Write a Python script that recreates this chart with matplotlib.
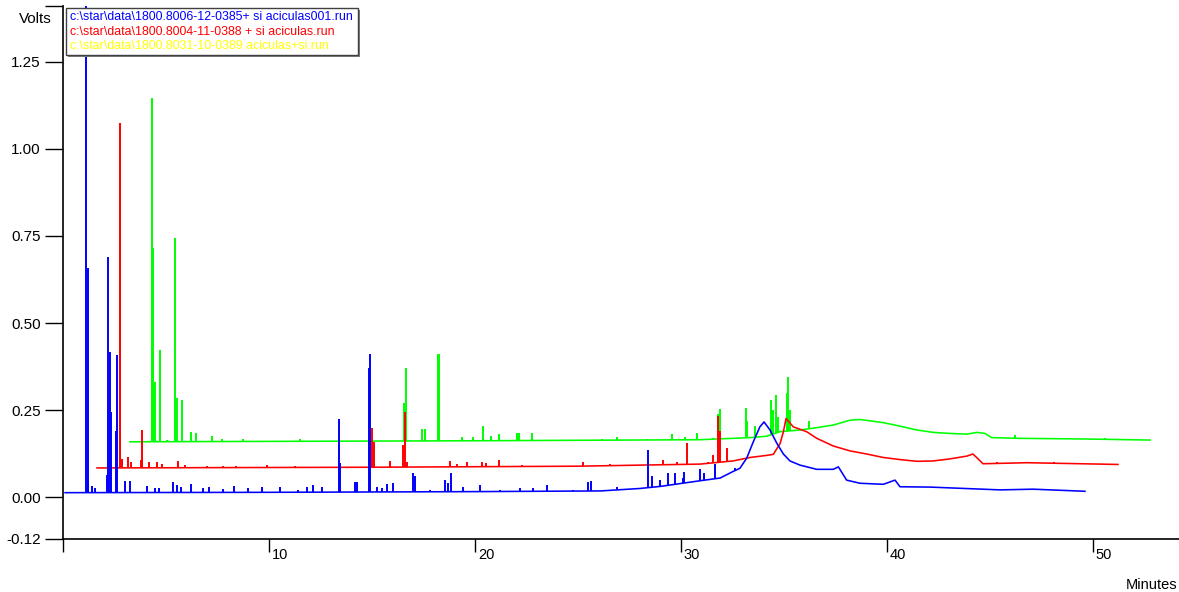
import numpy as np
import matplotlib.pyplot as plt
from matplotlib.patches import Rectangle

# ---- data (minutes, volts) ----
# blue: 1800.8006-12-0385+ si aciculas001
blue_base_t = [0.1, 10, 20, 26.1, 28.0, 29.0, 30.9, 31.9, 32.5, 32.86, 33.19, 33.51, 33.83, 34.03,
               34.32, 34.65, 34.97, 35.29, 35.78, 36.59, 37.39, 37.64, 38.04, 38.69, 39.82, 40.39,
               40.63, 42.09, 45.49, 47.09, 49.61]
blue_base_v = [0.013, 0.014, 0.016, 0.018, 0.025, 0.031, 0.047, 0.055, 0.073, 0.083, 0.112, 0.159,
               0.202, 0.216, 0.193, 0.155, 0.124, 0.104, 0.092, 0.080, 0.080, 0.087, 0.049, 0.040,
               0.037, 0.049, 0.030, 0.029, 0.021, 0.023, 0.017]
blue_peak_t = [1.12, 1.20, 1.23, 1.39, 1.55, 2.12, 2.18, 2.28, 2.33, 2.57, 2.62, 3.01, 3.25, 4.06,
               4.47, 4.66, 5.35, 5.52, 5.71, 6.21, 6.8, 7.09, 7.75, 8.3, 8.97, 9.66, 10.53, 11.41,
               11.83, 12.14, 12.56, 13.4, 13.45, 14.17, 14.26, 14.87, 14.92, 15.26, 15.47, 15.74,
               16.0, 17.0, 17.09, 17.82, 18.54, 18.7, 18.82, 19.4, 20.24, 21.2, 22.18, 22.82,
               23.48, 24.76, 25.5, 25.62, 26.88, 28.41, 28.58, 28.98, 29.38, 29.71, 30.08, 30.15,
               30.92, 31.12, 31.65, 32.62]
blue_peak_v = [1.45, 0.658, 0.044, 0.031, 0.027, 0.063, 0.69, 0.417, 0.245, 0.19, 0.408, 0.046,
               0.047, 0.031, 0.025, 0.027, 0.043, 0.035, 0.03, 0.039, 0.025, 0.03, 0.024, 0.031,
               0.025, 0.028, 0.03, 0.022, 0.03, 0.034, 0.03, 0.224, 0.098, 0.043, 0.045, 0.37,
               0.41, 0.03, 0.027, 0.037, 0.042, 0.07, 0.06, 0.02, 0.049, 0.04, 0.07, 0.03, 0.036,
               0.02, 0.025, 0.025, 0.034, 0.02, 0.044, 0.047, 0.03, 0.135, 0.06, 0.05, 0.07, 0.07,
               0.055, 0.072, 0.08, 0.07, 0.095, 0.085]

# red: 1800.8004-11-0388 + si aciculas
red_base_t = [1.65, 15, 25, 30.92, 32.52, 33.35, 34.16, 34.48, 34.81, 34.97, 35.1, 35.45, 36.1,
              36.59, 37.39, 38.2, 39.01, 39.82, 40.63, 41.46, 42.23, 43.06, 43.88, 44.17, 44.42,
              44.66, 46.8, 51.21]
red_base_v = [0.084, 0.086, 0.089, 0.095, 0.104, 0.114, 0.120, 0.123, 0.154, 0.188, 0.226, 0.202,
              0.188, 0.169, 0.147, 0.133, 0.124, 0.114, 0.108, 0.103, 0.104, 0.110, 0.118, 0.124,
              0.110, 0.096, 0.099, 0.094]
red_peak_t = [2.75, 2.85, 3.14, 3.3, 3.77, 3.82, 4.17, 4.56, 4.79, 5.6, 5.92, 6.98, 7.77, 8.4, 9.9,
              11.26, 14.99, 15.1, 15.87, 16.52, 16.59, 16.68, 18.79, 19.14, 19.6, 20.33, 20.53,
              21.18, 22.27, 25.24, 26.55, 29.13, 29.79, 30.28, 31.31, 31.55, 31.8, 31.89, 32.23,
              45.32, 48.13, 48.97, 49.38]
red_peak_v = [1.074, 0.11, 0.115, 0.1, 0.108, 0.193, 0.1, 0.1, 0.095, 0.103, 0.093, 0.09, 0.09,
              0.09, 0.092, 0.09, 0.198, 0.158, 0.103, 0.149, 0.245, 0.1, 0.103, 0.095, 0.1, 0.1,
              0.098, 0.106, 0.092, 0.1, 0.095, 0.106, 0.1, 0.155, 0.1, 0.12, 0.233, 0.19, 0.14,
              0.1, 0.1, 0.098, 0.098]

# green trace (legend text is yellow): 1800.8031-10-0389 aciculas+si
green_base_t = [3.25, 20, 30.9, 33.35, 34.16, 34.8, 35.78, 36.41, 37.39, 38.2, 38.69, 39.82, 40.63,
                41.44, 42.25, 43.06, 43.87, 44.36, 44.76, 45.08, 46.37, 49.69, 50.73, 52.77]
green_base_v = [0.159, 0.162, 0.165, 0.171, 0.175, 0.188, 0.193, 0.198, 0.207, 0.221, 0.223, 0.214,
                0.204, 0.193, 0.186, 0.183, 0.181, 0.186, 0.183, 0.171, 0.169, 0.167, 0.166, 0.164]
green_peak_t = [4.33, 4.37, 4.45, 4.71, 5.03, 5.44, 5.52, 5.78, 6.2, 6.46, 7.22, 7.72, 8.74, 11.5,
                16.55, 16.67, 17.45, 17.55, 18.19, 18.25, 19.35, 19.92, 20.37, 20.76, 21.18, 22.02,
                22.14, 22.75, 26.15, 26.88, 28.33, 29.55, 30.19, 30.76, 31.55, 31.8, 31.89, 33.16,
                33.22, 33.59, 34.35, 34.47, 34.61, 34.72, 35.16, 35.21, 35.29, 36.21, 46.21, 50.58]
green_peak_v = [1.147, 0.715, 0.33, 0.422, 0.165, 0.743, 0.284, 0.28, 0.186, 0.183, 0.176, 0.168,
                0.167, 0.166, 0.27, 0.37, 0.195, 0.195, 0.41, 0.41, 0.172, 0.172, 0.205, 0.176,
                0.18, 0.183, 0.183, 0.183, 0.168, 0.172, 0.168, 0.18, 0.172, 0.183, 0.17, 0.24,
                0.253, 0.257, 0.22, 0.204, 0.279, 0.25, 0.293, 0.23, 0.3, 0.345, 0.25, 0.22,
                0.178, 0.171]

legend_labels = [r'c:\star\data\1800.8006-12-0385+ si aciculas001.run',
                 r'c:\star\data\1800.8004-11-0388 + si aciculas.run',
                 r'c:\star\data\1800.8031-10-0389 aciculas+si.run']

y_ticks = [-0.12, 0.0, 0.25, 0.5, 0.75, 1.0, 1.25, 1.41]
y_ticklabels = ['-0.12', '0.00', '0.25', '0.50', '0.75', '1.00', '1.25', '']
x_ticks = [0, 10, 20, 30, 40, 50]
x_ticklabels = ['', '10', '20', '30', '40', '50']

W, H = 1179, 592
plt.rcParams['font.family'] = ['Liberation Sans', 'DejaVu Sans']

fig = plt.figure(figsize=(W / 100, H / 100), dpi=100)
ax = fig.add_axes([63 / W, 1 - 539 / H, (W - 63) / W, (539 - 6) / H])

traces = [
    (green_base_t, green_base_v, green_peak_t, green_peak_v, '#00ff00'),
    (red_base_t, red_base_v, red_peak_t, red_peak_v, '#ff0000'),
    (blue_base_t, blue_base_v, blue_peak_t, blue_peak_v, '#0000ff'),
]
for bt, bv, pt, pv, col in traces:
    ax.plot(bt, bv, color=col, lw=1.15)
    foot = np.interp(pt, bt, bv)
    ax.vlines(pt, foot, pv, color=col, lw=1.4)

ax.set_xlim(0, (W - 63) / 20.6)
ax.set_ylim(-0.12, 1.41)

ax.spines['top'].set_visible(False)
ax.spines['right'].set_visible(False)
ax.spines['left'].set_linewidth(1.2)
ax.spines['bottom'].set_linewidth(1.2)

ax.set_yticks(y_ticks)
ax.set_yticklabels(y_ticklabels)
ax.tick_params(axis='y', length=13, width=1, pad=3, labelsize=11)
ax.set_xticks(x_ticks)
ax.set_xticklabels([''] * len(x_ticks))
ax.tick_params(axis='x', length=9, width=1)
for t, lab in zip(x_ticks, x_ticklabels):
    ax.annotate(lab, xy=(t, 0), xycoords=('data', 'axes fraction'), xytext=(2, -6.5),
                textcoords='offset points', ha='left', va='top', fontsize=10.5)

fig.text(52 / W, 1 - 19 / H, 'Volts', ha='right', va='center', fontsize=11)
fig.text(1177 / W, 1 - 585 / H, 'Minutes', ha='right', va='center', fontsize=10.5)

# legend box
ax.add_patch(Rectangle((68 / W, 1 - 57 / H), 292 / W, 47 / H, transform=fig.transFigure,
                       facecolor='#808080', edgecolor='none', clip_on=False, zorder=5))
ax.add_patch(Rectangle((66 / W, 1 - 55 / H), 292 / W, 47 / H, transform=fig.transFigure,
                       facecolor='white', edgecolor='#404040', lw=1, clip_on=False, zorder=6))
for i, (lab, col) in enumerate(zip(legend_labels, ['#0000ff', '#ff0000', '#ffff00'])):
    ax.text(70 / W, 1 - (17.5 + 14.3 * i) / H, lab, transform=fig.transFigure, color=col,
            fontsize=8.9, ha='left', va='center', zorder=7)

fig.savefig('out.png', dpi=100)
plt.close(fig)
